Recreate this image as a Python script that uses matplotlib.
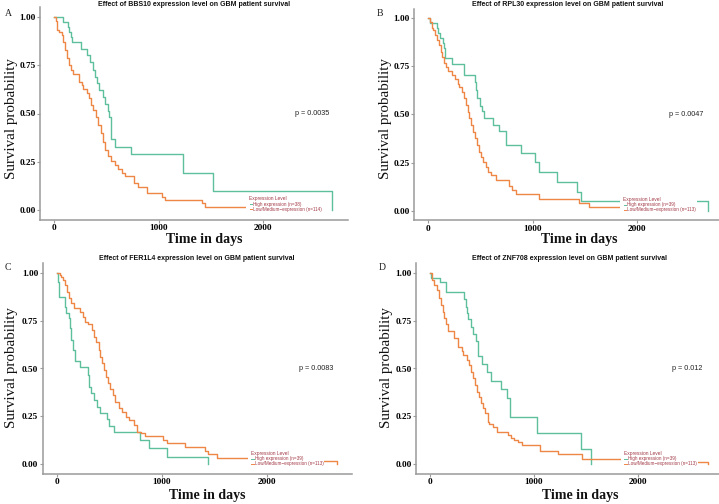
import matplotlib
matplotlib.use("Agg")
import matplotlib.pyplot as plt
from matplotlib.patches import Rectangle
import numpy as np

W, H = 719, 504

# ---------------- data ----------------
titles = ["Effect of BBS10 expression level on GBM patient survival",
          "Effect of RPL30 expression level on GBM patient survival",
          "Effect of FER1L4 expression level on GBM patient survival",
          "Effect of ZNF708 expression level on GBM patient survival"]
panel_letters = ["A", "B", "C", "D"]
pvalues = ["p = 0.0035", "p = 0.0047", "p = 0.0083", "p = 0.012"]
high_labels = ["High expression (n=38)", "High expression (n=39)",
               "High expression (n=39)", "High expression (n=39)"]
low_labels = ["Low/Medium\u2212expression (n=114)", "Low/Medium\u2212expression (n=113)",
              "Low/Medium\u2212expression (n=113)", "Low/Medium\u2212expression (n=113)"]

# Panel A (BBS10)
a_high_t = [0, 83, 137, 145, 160, 175, 255, 319, 340, 376, 390, 408, 430, 472, 490, 513, 530, 542, 587, 740, 1231, 1522, 2661]
a_high_s = [1.0, 0.974, 0.947, 0.921, 0.895, 0.868, 0.834, 0.803, 0.765, 0.725, 0.690, 0.656, 0.622, 0.587, 0.549, 0.514, 0.480, 0.366, 0.328, 0.288, 0.193, 0.097, 0.0]
a_low_t = [0, 16, 32, 51, 80, 89, 105, 127, 147, 160, 179, 239, 264, 281, 313, 335, 351, 376, 399, 424, 447, 466, 489, 520, 546, 584, 616, 648, 680, 766, 807, 887, 1030, 1060, 1418, 1449, 2200]
a_low_s = [1.0, 0.981, 0.933, 0.924, 0.907, 0.872, 0.829, 0.786, 0.751, 0.725, 0.705, 0.665, 0.648, 0.625, 0.605, 0.579, 0.544, 0.518, 0.480, 0.440, 0.397, 0.354, 0.311, 0.281, 0.255, 0.233, 0.211, 0.190, 0.178, 0.138, 0.118, 0.087, 0.069, 0.050, 0.035, 0.014, 0.014]

# Panel B (RPL30)
b_high_t = [0, 16, 80, 95, 112, 143, 152, 160, 230, 345, 448, 457, 470, 496, 518, 537, 623, 678, 742, 885, 1023, 1065, 1237, 1428, 1460, 2684]
b_high_s = [1.0, 0.974, 0.949, 0.923, 0.897, 0.872, 0.846, 0.792, 0.763, 0.705, 0.670, 0.628, 0.584, 0.546, 0.519, 0.481, 0.446, 0.415, 0.339, 0.299, 0.252, 0.200, 0.151, 0.099, 0.052, 0.0]
b_low_t = [0, 16, 32, 48, 64, 87, 103, 119, 135, 151, 166, 186, 230, 256, 281, 297, 320, 342, 358, 377, 390, 406, 425, 448, 470, 489, 505, 527, 553, 575, 598, 646, 770, 806, 838, 1064, 1447, 1543, 2200]
b_low_s = [1.0, 0.983, 0.948, 0.940, 0.913, 0.887, 0.861, 0.827, 0.801, 0.770, 0.749, 0.725, 0.706, 0.683, 0.659, 0.642, 0.619, 0.584, 0.550, 0.515, 0.480, 0.446, 0.411, 0.377, 0.342, 0.307, 0.281, 0.255, 0.229, 0.203, 0.186, 0.157, 0.126, 0.105, 0.085, 0.060, 0.040, 0.020, 0.020]

# Panel C (FER1L4)
c_high_t = [0, 8, 15, 25, 76, 90, 114, 130, 140, 152, 171, 225, 298, 305, 330, 358, 384, 409, 479, 501, 542, 797, 876, 1050, 1444]
c_high_s = [1.0, 0.974, 0.949, 0.871, 0.820, 0.788, 0.761, 0.709, 0.650, 0.597, 0.539, 0.509, 0.466, 0.405, 0.374, 0.336, 0.301, 0.270, 0.236, 0.200, 0.170, 0.127, 0.083, 0.040, 0.0]
c_low_t = [0, 30, 44, 60, 76, 98, 121, 140, 162, 225, 247, 273, 300, 336, 358, 378, 400, 416, 431, 454, 470, 489, 511, 533, 559, 590, 622, 660, 686, 740, 765, 800, 840, 1012, 1050, 1225, 1413, 1444, 1524, 2200, 2667]
c_low_s = [1.0, 0.990, 0.979, 0.961, 0.935, 0.900, 0.866, 0.840, 0.817, 0.796, 0.770, 0.744, 0.732, 0.701, 0.666, 0.636, 0.596, 0.562, 0.527, 0.492, 0.457, 0.422, 0.393, 0.362, 0.327, 0.296, 0.275, 0.249, 0.232, 0.205, 0.170, 0.161, 0.149, 0.127, 0.110, 0.088, 0.070, 0.053, 0.035, 0.017, 0.0]

# Panel D (ZNF708)
d_high_t = [0, 8, 96, 151, 158, 330, 342, 356, 370, 391, 417, 442, 465, 503, 545, 587, 683, 737, 769, 1026, 1449, 1545]
d_high_s = [1.0, 0.974, 0.949, 0.923, 0.897, 0.865, 0.822, 0.790, 0.756, 0.718, 0.680, 0.645, 0.566, 0.526, 0.480, 0.435, 0.393, 0.344, 0.245, 0.162, 0.078, 0.0]
d_low_t = [0, 22, 38, 64, 87, 103, 122, 138, 154, 176, 234, 272, 304, 320, 353, 375, 391, 410, 433, 455, 474, 490, 513, 529, 554, 570, 609, 641, 753, 779, 811, 843, 888, 1058, 1234, 1458, 2200, 2676]
d_low_s = [1.0, 0.961, 0.938, 0.909, 0.866, 0.831, 0.797, 0.762, 0.730, 0.696, 0.657, 0.614, 0.592, 0.570, 0.544, 0.518, 0.483, 0.448, 0.414, 0.379, 0.353, 0.318, 0.292, 0.266, 0.222, 0.208, 0.193, 0.170, 0.153, 0.135, 0.127, 0.118, 0.100, 0.071, 0.056, 0.026, 0.012, 0.0]

high_t = [a_high_t, b_high_t, c_high_t, d_high_t]
high_s = [a_high_s, b_high_s, c_high_s, d_high_s]
low_t = [a_low_t, b_low_t, c_low_t, d_low_t]
low_s = [a_low_s, b_low_s, c_low_s, d_low_s]

x_ticks = [0, 1000, 2000]
y_ticks = [0.0, 0.25, 0.50, 0.75, 1.00]

# ---------------- style ----------------
GREEN = "#5ebf9c"
ORANGE = "#ee8646"
LEGRED = "#a23a46"
AXGREY = "#9a9a9a"
SERIF = ["Liberation Serif", "DejaVu Serif"]
SANS = ["Liberation Sans", "DejaVu Sans"]

# panel geometry in pixels: zero-day x, px per day, y of 1.0, y of 0.0
geo = [
    dict(x0=54.0, sx=0.1045, y1=17.0, y0=210.0),
    dict(x0=428.3, sx=0.1043, y1=18.3, y0=210.7),
    dict(x0=56.7, sx=0.1050, y1=272.7, y0=464.3),
    dict(x0=430.0, sx=0.1040, y1=272.7, y0=464.3),
]
XLIM = (-134, 2814)
YLIM = (-0.05, 1.05)

title_pos = [(194, 4.5), (568, 4.5), (197, 258.5), (569, 258.5)]
letter_pos = [(5, 14), (377, 14), (5, 267), (379, 268)]
ylab_pos = [(12, 119), (385.5, 118.5), (12, 367.5), (386.5, 367.5)]
xlab_pos = [(204, 239), (579, 240), (207, 495), (580, 495)]
leg_pos = [(1866, 0.057), (1867, 0.058), (1848, 0.054), (1865, 0.054)]
LEG_FS = 3.35

fig = plt.figure(figsize=(W / 100, H / 100), dpi=100)


def fx(x):
    return x / W


def fy(y):
    return 1 - y / H


axes = []
for i in range(4):
    g = geo[i]
    l = g["x0"] + XLIM[0] * g["sx"]
    r = g["x0"] + XLIM[1] * g["sx"]
    su = g["y0"] - g["y1"]
    t = g["y1"] - (YLIM[1] - 1) * su
    b = g["y0"] + (0 - YLIM[0]) * su
    ax = fig.add_axes([fx(l), fy(b), (r - l) / W, (b - t) / H])
    ax.set_xlim(*XLIM)
    ax.set_ylim(*YLIM)
    for s in ["top", "right"]:
        ax.spines[s].set_visible(False)
    for s in ["left", "bottom"]:
        ax.spines[s].set_color(AXGREY)
        ax.spines[s].set_linewidth(1.1)
    ax.set_xticks(x_ticks)
    ax.set_yticks(y_ticks)
    ax.set_xticklabels([str(v) for v in x_ticks])
    ax.set_yticklabels(["%.2f" % v for v in y_ticks])
    ax.tick_params(length=2, width=0.8, color=AXGREY, pad=1.2, labelsize=6.7)
    for lab in ax.get_xticklabels() + ax.get_yticklabels():
        lab.set_family(SERIF)
        lab.set_fontweight("bold")

    ax.step(high_t[i], high_s[i], where="post", color=GREEN, lw=1.0, zorder=3)
    ax.step(low_t[i], low_s[i], where="post", color=ORANGE, lw=1.0, zorder=3)

    ax.text(2470, 0.50, pvalues[i], ha="center", va="center", fontsize=5.2,
            family=SANS, color="#222222")

    # legend
    lx, ly = leg_pos[i]
    dy = 0.026
    texts = []
    texts.append(ax.text(lx, ly, "Expression Level", fontsize=LEG_FS + 0.2, family=SANS,
                         color=LEGRED, ha="left", va="center", zorder=6))
    for k, (lab, col) in enumerate([(high_labels[i], GREEN), (low_labels[i], ORANGE)]):
        yy = ly - (k + 1) * dy
        ax.plot([lx + 5, lx + 32], [yy, yy], color=col, lw=0.7, zorder=6)
        texts.append(ax.text(lx + 40, yy, lab, fontsize=LEG_FS, family=SANS,
                             color=LEGRED, ha="left", va="center", zorder=6))
    ax._legtexts = texts
    axes.append(ax)

    fig.text(fx(title_pos[i][0]), fy(title_pos[i][1]), titles[i], ha="center", va="center",
             fontsize=5.0, fontweight="bold", family=SANS, color="#111111")
    fig.text(fx(letter_pos[i][0]), fy(letter_pos[i][1]), panel_letters[i], ha="left",
             va="center", fontsize=7, family=SERIF, color="#222222")
    fig.text(fx(ylab_pos[i][0]), fy(ylab_pos[i][1]), "Survival probability", ha="center",
             va="center", rotation=90, fontsize=10.8, family=SERIF, color="#111111")
    fig.text(fx(xlab_pos[i][0]), fy(xlab_pos[i][1]), "Time in days", ha="center",
             va="center", fontsize=10, fontweight="bold", family=SERIF, color="#111111")

# white background behind legend texts
fig.canvas.draw()
renderer = fig.canvas.get_renderer()
for ax in axes:
    bbs = [t.get_window_extent(renderer) for t in ax._legtexts]
    x0d = min(b.x0 for b in bbs)
    x1d = max(b.x1 for b in bbs)
    y0d = min(b.y0 for b in bbs)
    y1d = max(b.y1 for b in bbs)
    inv = ax.transData.inverted()
    (xa, ya) = inv.transform((x0d, y0d))
    (xb, yb) = inv.transform((x1d, y1d))
    lx = xa - 30
    ax.add_patch(Rectangle((lx, ya - 0.004), xb - lx + 5, yb - ya + 0.008, facecolor="white",
                           edgecolor="none", zorder=5))

fig.savefig("out.png", dpi=100)
